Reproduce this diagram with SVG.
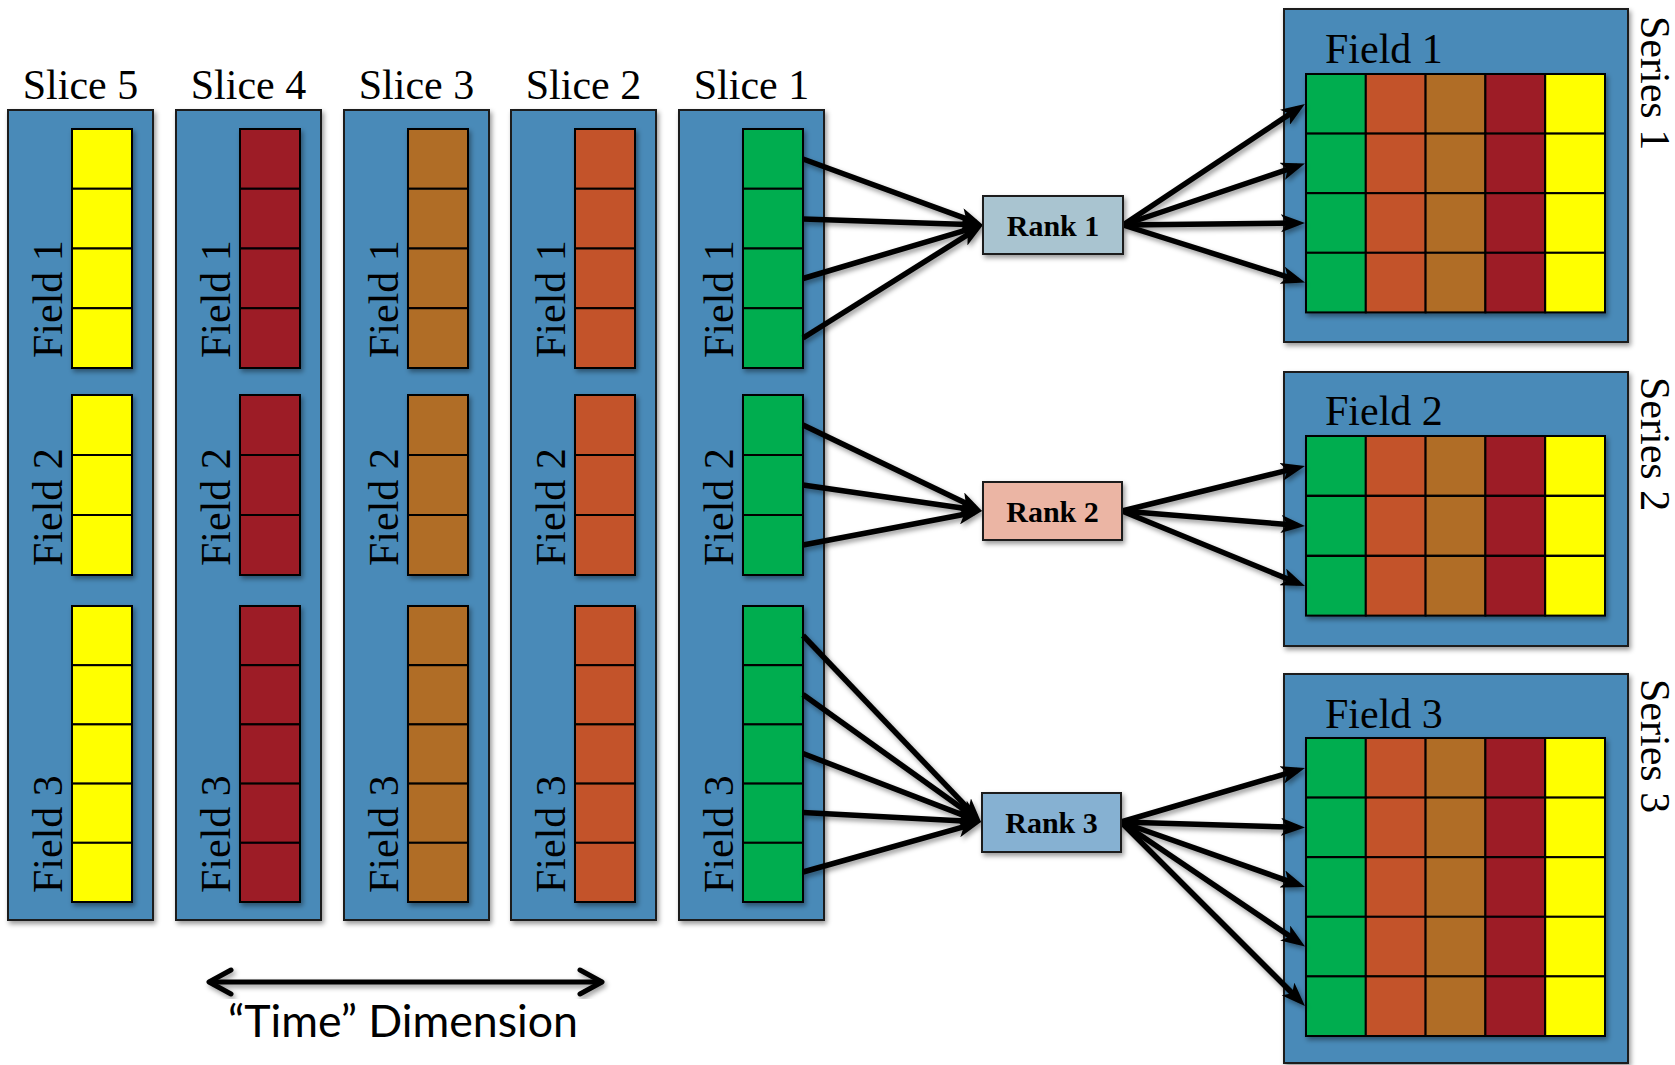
<svg xmlns="http://www.w3.org/2000/svg" xmlns:xlink="http://www.w3.org/1999/xlink" width="1675" height="1065" viewBox="0 0 1675 1065">
<style>
.panel{fill:#4a8ab8;stroke:#1e1e1e;stroke-width:2}
.cell{stroke:#000;stroke-width:2}
.t{font-family:"Liberation Serif","Times New Roman",serif;font-size:42px;fill:#000}
.rk{font-family:"Liberation Serif","Times New Roman",serif;font-size:30px;font-weight:bold;fill:#000;text-anchor:middle}
.rbox{stroke:#1e1e1e;stroke-width:2}
.sh{filter:url(#sh)}
.con line{stroke:#000;stroke-width:5.5;marker-end:url(#ah)}
</style>
<defs>
<filter id="sh" x="-10%" y="-10%" width="130%" height="130%">
<feDropShadow dx="2" dy="3" stdDeviation="2.5" flood-color="#000" flood-opacity="0.4"/>
</filter>
<marker id="ah" markerUnits="userSpaceOnUse" markerWidth="24" markerHeight="18" viewBox="0 0 24 18" refX="16" refY="9" orient="auto">
<path d="M0,0 L24,9 L0,18 L6,9 z" fill="#000"/>
</marker>
<g id="cols">
<g class="sh">
<rect class="cell" x="72" y="129" width="60" height="59.75"/>
<rect class="cell" x="72" y="188.75" width="60" height="59.75"/>
<rect class="cell" x="72" y="248.5" width="60" height="59.75"/>
<rect class="cell" x="72" y="308.25" width="60" height="59.75"/>
</g>
<g class="sh">
<rect class="cell" x="72" y="395" width="60" height="60"/>
<rect class="cell" x="72" y="455" width="60" height="60"/>
<rect class="cell" x="72" y="515" width="60" height="60"/>
</g>
<g class="sh">
<rect class="cell" x="72" y="606" width="60" height="59.2"/>
<rect class="cell" x="72" y="665.2" width="60" height="59.2"/>
<rect class="cell" x="72" y="724.4" width="60" height="59.2"/>
<rect class="cell" x="72" y="783.6" width="60" height="59.2"/>
<rect class="cell" x="72" y="842.8" width="60" height="59.2"/>
</g>
</g>
<g id="row">
<rect class="cell" x="1306" y="0" width="59.8" height="59.6" fill="#00ad50"/>
<rect class="cell" x="1365.8" y="0" width="59.8" height="59.6" fill="#c3532a"/>
<rect class="cell" x="1425.6" y="0" width="59.8" height="59.6" fill="#b06d25"/>
<rect class="cell" x="1485.4" y="0" width="59.8" height="59.6" fill="#9d1b26"/>
<rect class="cell" x="1545.2" y="0" width="59.8" height="59.6" fill="#ffff00"/>
</g>
</defs>

<g id="slice5">
<rect class="panel sh" x="8" y="110" width="145" height="810"/>
<use xlink:href="#cols" href="#cols" x="0" fill="#ffff00"/>
<text class="t" x="80.5" y="99" text-anchor="middle">Slice 5</text>
<text class="t" x="62" y="358" transform="rotate(-90 62 358)">Field 1</text>
<text class="t" x="62" y="566" transform="rotate(-90 62 566)">Field 2</text>
<text class="t" x="62" y="893" transform="rotate(-90 62 893)">Field 3</text>
</g>
<g id="slice4">
<rect class="panel sh" x="176" y="110" width="145" height="810"/>
<use xlink:href="#cols" href="#cols" x="168" fill="#9d1b26"/>
<text class="t" x="248.5" y="99" text-anchor="middle">Slice 4</text>
<text class="t" x="230" y="358" transform="rotate(-90 230 358)">Field 1</text>
<text class="t" x="230" y="566" transform="rotate(-90 230 566)">Field 2</text>
<text class="t" x="230" y="893" transform="rotate(-90 230 893)">Field 3</text>
</g>
<g id="slice3">
<rect class="panel sh" x="344" y="110" width="145" height="810"/>
<use xlink:href="#cols" href="#cols" x="336" fill="#b06d25"/>
<text class="t" x="416.5" y="99" text-anchor="middle">Slice 3</text>
<text class="t" x="398" y="358" transform="rotate(-90 398 358)">Field 1</text>
<text class="t" x="398" y="566" transform="rotate(-90 398 566)">Field 2</text>
<text class="t" x="398" y="893" transform="rotate(-90 398 893)">Field 3</text>
</g>
<g id="slice2">
<rect class="panel sh" x="511" y="110" width="145" height="810"/>
<use xlink:href="#cols" href="#cols" x="503" fill="#c3532a"/>
<text class="t" x="583.5" y="99" text-anchor="middle">Slice 2</text>
<text class="t" x="565" y="358" transform="rotate(-90 565 358)">Field 1</text>
<text class="t" x="565" y="566" transform="rotate(-90 565 566)">Field 2</text>
<text class="t" x="565" y="893" transform="rotate(-90 565 893)">Field 3</text>
</g>
<g id="slice1">
<rect class="panel sh" x="679" y="110" width="145" height="810"/>
<use xlink:href="#cols" href="#cols" x="671" fill="#00ad50"/>
<text class="t" x="751.5" y="99" text-anchor="middle">Slice 1</text>
<text class="t" x="733" y="358" transform="rotate(-90 733 358)">Field 1</text>
<text class="t" x="733" y="566" transform="rotate(-90 733 566)">Field 2</text>
<text class="t" x="733" y="893" transform="rotate(-90 733 893)">Field 3</text>
</g>

<g id="series1">
<rect class="panel sh" x="1284" y="9" width="344" height="333"/>
<g class="sh">
<use xlink:href="#row" href="#row" y="74"/>
<use xlink:href="#row" href="#row" y="133.6"/>
<use xlink:href="#row" href="#row" y="193.2"/>
<use xlink:href="#row" href="#row" y="252.8"/>
</g>
<text class="t" x="1325" y="63">Field 1</text>
<text class="t" x="1641" y="16" transform="rotate(90 1641 16)">Series 1</text>
</g>
<g id="series2">
<rect class="panel sh" x="1284" y="372" width="344" height="274"/>
<g class="sh">
<use xlink:href="#row" href="#row" y="436"/>
<use xlink:href="#row" href="#row" y="496"/>
<use xlink:href="#row" href="#row" y="556"/>
</g>
<text class="t" x="1325" y="425">Field 2</text>
<text class="t" x="1641" y="377" transform="rotate(90 1641 377)">Series 2</text>
</g>
<g id="series3">
<rect class="panel sh" x="1284" y="674" width="344" height="389"/>
<g class="sh">
<use xlink:href="#row" href="#row" y="738"/>
<use xlink:href="#row" href="#row" y="797.6"/>
<use xlink:href="#row" href="#row" y="857.2"/>
<use xlink:href="#row" href="#row" y="916.8"/>
<use xlink:href="#row" href="#row" y="976.4"/>
</g>
<text class="t" x="1325" y="728">Field 3</text>
<text class="t" x="1641" y="679" transform="rotate(90 1641 679)">Series 3</text>
</g>

<g id="connectors" class="con sh">
<line x1="803" y1="159" x2="975.5" y2="222.2"/>
<line x1="803" y1="219" x2="975" y2="224.7"/>
<line x1="803" y1="278.5" x2="975.3" y2="227.3"/>
<line x1="803" y1="338" x2="976.2" y2="229.3"/>
<line x1="1123" y1="225" x2="1298.3" y2="108.4"/>
<line x1="1123" y1="225" x2="1297.4" y2="166.1"/>
<line x1="1123" y1="225" x2="1297" y2="223.1"/>
<line x1="1123" y1="225" x2="1297.4" y2="280.1"/>
<line x1="803" y1="425" x2="974.8" y2="507.5"/>
<line x1="803" y1="485" x2="974.1" y2="509.8"/>
<line x1="803" y1="545" x2="974.1" y2="512.5"/>
<line x1="1122" y1="511" x2="1297.2" y2="467.9"/>
<line x1="1122" y1="511" x2="1297" y2="525.3"/>
<line x1="1122" y1="511" x2="1297.6" y2="583"/>
<line x1="803" y1="635.5" x2="975.5" y2="816.2"/>
<line x1="803" y1="694.5" x2="974.5" y2="817.3"/>
<line x1="803" y1="753.5" x2="973.5" y2="819.1"/>
<line x1="803" y1="812.5" x2="973" y2="821.6"/>
<line x1="803" y1="872" x2="973.3" y2="824.2"/>
<line x1="1121" y1="822" x2="1297.3" y2="770.3"/>
<line x1="1121" y1="822" x2="1297" y2="827.3"/>
<line x1="1121" y1="822" x2="1297.5" y2="884.3"/>
<line x1="1121" y1="822" x2="1298.4" y2="942"/>
<line x1="1121" y1="822" x2="1299.3" y2="1000.3"/>
</g>

<g id="rank1">
<rect class="rbox sh" x="983" y="196" width="140" height="58" fill="#a9c4d0"/>
<text class="rk" x="1053" y="236">Rank 1</text>
</g>
<g id="rank2">
<rect class="rbox sh" x="983" y="482" width="139" height="58" fill="#ebb5a4"/>
<text class="rk" x="1052.5" y="522">Rank 2</text>
</g>
<g id="rank3">
<rect class="rbox sh" x="982" y="793" width="139" height="59" fill="#86b1d2"/>
<text class="rk" x="1051.5" y="833">Rank 3</text>
</g>

<g id="time-axis">
<g class="sh" fill="none" stroke="#000" stroke-width="5" stroke-linecap="round" stroke-linejoin="round">
<line x1="210" y1="982" x2="601" y2="982"/>
<polyline points="231,970 209,982 231,994"/>
<polyline points="580,970 602,982 580,994"/>
</g>
<text x="403" y="1037" text-anchor="middle" font-family="Lato,'Liberation Sans',sans-serif" font-size="44" textLength="350" lengthAdjust="spacingAndGlyphs">“Time” Dimension</text>
</g>
</svg>
